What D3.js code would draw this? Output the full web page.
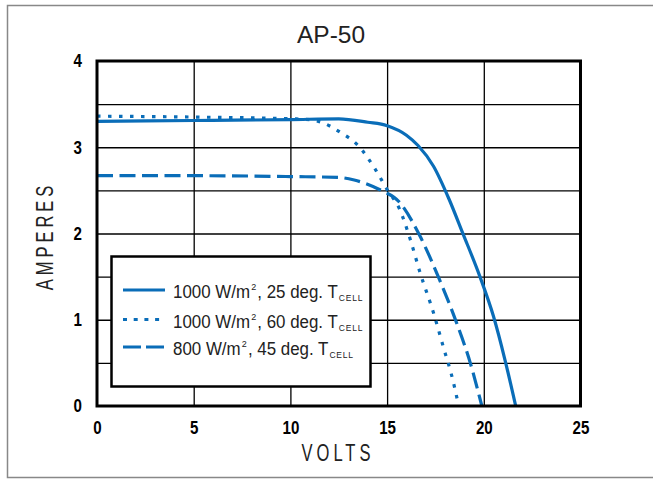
<!DOCTYPE html>
<html>
<head>
<meta charset="utf-8">
<script src="https://cdn.jsdelivr.net/npm/d3@7.9.0/dist/d3.min.js"></script>
<style>
  body { margin: 0; background: #fff; }
  svg { display: block; }
  text { font-family: "Liberation Sans", Arial, sans-serif; }
</style>
</head>
<body>
<div id="chart"></div>
<script>
// tick values
const xTicks = [0, 5, 10, 15, 20, 25];
const yTicks = [0, 1, 2, 3, 4];
const yGrid = [0.5, 1, 1.5, 2, 2.5, 3, 3.5];

// I-V curves: [volts, amperes]
const curve25 = [[0, 3.30], [5, 3.31], [10, 3.32], [12.5, 3.33], [14, 3.29], [15, 3.25], [16, 3.14],
  [16.6, 3.02], [17.4, 2.78], [18.2, 2.40], [18.9, 2.01], [19.8, 1.50], [20.5, 1.04], [21.1, 0.53], [21.65, 0]];
const curve60 = [[0, 3.36], [5, 3.35], [10, 3.33], [11, 3.32], [11.6, 3.29], [12.6, 3.17], [13.5, 3.02],
  [14.4, 2.74], [15.0, 2.51], [15.65, 2.28], [16.2, 1.93], [16.7, 1.55], [17.4, 1.08], [17.9, 0.69], [18.4, 0.30], [18.7, 0]];
const curve45 = [[0, 2.67], [5, 2.67], [10, 2.66], [12.5, 2.65], [13.3, 2.62], [14.6, 2.51], [15.65, 2.36],
  [16.7, 1.97], [17.7, 1.47], [18.6, 0.96], [19.3, 0.50], [19.9, 0]];

const seriesNames = ['1000 W/m', '1000 W/m', '800 W/m'];
const seriesTemps = [', 25 deg. T', ', 60 deg. T', ', 45 deg. T'];
const seriesData = [curve25, curve60, curve45];
const seriesDash = [null, '3.5,7.5', '16,6.5'];
const legendDash = [null, '4,6.7', '18,5'];

const width = 653, height = 479;
const blue = '#0a6db8';

// no condensed font is installed, so squeeze the text to the narrow widths
function squeeze(sel, k) {
  sel.each(function () {
    const w = this.getComputedTextLength();
    d3.select(this).attr('textLength', w * k).attr('lengthAdjust', 'spacingAndGlyphs');
  });
}

const svg = d3.select('#chart').append('svg')
  .attr('width', width).attr('height', height);

// outer frame
svg.append('path')
  .attr('d', `M${width},5.5H7.5V477.5H${width}`)
  .attr('fill', 'none').attr('stroke', '#888').attr('stroke-width', 1.5);

const x = d3.scaleLinear().domain([0, 25]).range([97, 580.5]);
const y = d3.scaleLinear().domain([0, 4]).range([406, 61]);

// gridlines
svg.append('g')
  .attr('transform', `translate(0,${y(0)})`)
  .call(d3.axisBottom(x).tickValues([5, 10, 15, 20]).tickSize(-(y(0) - y(4))).tickFormat(''))
  .call(g => g.select('.domain').remove())
  .call(g => g.selectAll('line').attr('stroke', '#000').attr('stroke-width', 1.3));

svg.append('g')
  .attr('transform', `translate(${x(0)},0)`)
  .call(d3.axisLeft(y).tickValues(yGrid).tickSize(-(x(25) - x(0))).tickFormat(''))
  .call(g => g.select('.domain').remove())
  .call(g => g.selectAll('line').attr('stroke', '#000').attr('stroke-width', 1.3));

// tick labels
svg.append('g')
  .attr('transform', `translate(0,${y(0)})`)
  .call(d3.axisBottom(x).tickValues(xTicks).tickSize(0).tickPadding(15).tickFormat(d3.format('d')))
  .call(g => g.select('.domain').remove())
  .call(g => g.selectAll('text').attr('font-size', 18).attr('font-weight', 'bold')
    .attr('font-family', null).attr('fill', '#000').call(squeeze, 0.84));

svg.append('g')
  .attr('transform', `translate(${x(0)},0)`)
  .call(d3.axisLeft(y).tickValues(yTicks).tickSize(0).tickPadding(15).tickFormat(d3.format('d')))
  .call(g => g.select('.domain').remove())
  .call(g => g.selectAll('text').attr('font-size', 18).attr('font-weight', 'bold')
    .attr('font-family', null).attr('fill', '#000').call(squeeze, 0.84));

// curves
const line = d3.line()
  .x(d => x(d[0]))
  .y(d => y(d[1]))
  .curve(d3.curveMonotoneX);

svg.append('g').selectAll('path')
  .data(seriesData)
  .join('path')
  .attr('d', line)
  .attr('fill', 'none')
  .attr('stroke', blue)
  .attr('stroke-width', 3.2)
  .attr('stroke-dasharray', (d, i) => seriesDash[i]);

// plot border
svg.append('rect')
  .attr('x', x(0)).attr('y', y(4))
  .attr('width', x(25) - x(0)).attr('height', y(0) - y(4))
  .attr('fill', 'none').attr('stroke', '#000').attr('stroke-width', 3);

// title and axis titles
svg.append('text')
  .attr('x', 331).attr('y', 43)
  .attr('text-anchor', 'middle')
  .attr('font-size', 24.5).attr('fill', '#222')
  .text('AP-50');

// letter-spaced narrow capitals, narrowed with a horizontal scale
svg.append('text')
  .attr('transform', 'translate(338,461) scale(0.72,1)')
  .attr('text-anchor', 'middle')
  .attr('font-size', 23).attr('letter-spacing', 5.5).attr('fill', '#222')
  .text('VOLTS');

svg.append('text')
  .attr('transform', 'translate(53,236) rotate(-90) scale(0.72,1)')
  .attr('text-anchor', 'middle')
  .attr('font-size', 23).attr('letter-spacing', 5.5).attr('fill', '#222')
  .text('AMPERES');

// legend
const legend = svg.append('g');
legend.append('rect')
  .attr('x', 111.5).attr('y', 256.5).attr('width', 259).attr('height', 130)
  .attr('fill', '#fff').attr('stroke', '#000').attr('stroke-width', 2.5);

const rowY = [290, 319.5, 347];
const rows = legend.selectAll('g.row')
  .data(seriesData)
  .join('g')
  .attr('class', 'row')
  .attr('transform', (d, i) => `translate(0,${rowY[i]})`);

rows.append('line')
  .attr('x1', 123).attr('x2', 165)
  .attr('stroke', blue).attr('stroke-width', 3.2)
  .attr('stroke-dasharray', (d, i) => legendDash[i]);

// each label is laid out piece by piece: name, superscript 2, temperature, CELL subscript
rows.each(function (d, i) {
  const row = d3.select(this);
  let cx = 173;
  const put = (txt, size, dy, k, spacing) => {
    const t = row.append('text')
      .attr('font-size', size).attr('fill', '#222')
      .attr('letter-spacing', spacing || null)
      .text(txt);
    const w = t.node().getComputedTextLength() * k;
    t.attr('transform', `translate(${cx},${8 + dy}) scale(${k},1)`);
    cx += w;
  };
  put(seriesNames[i], 19, 0, 0.89);
  cx += 1.2;
  put('2', 9, -8, 1);
  cx += 1;
  put(seriesTemps[i], 19, 0, 0.89);
  cx += 1;
  put('CELL', 8.5, 3, 1, 0.8);
});
</script>
</body>
</html>
